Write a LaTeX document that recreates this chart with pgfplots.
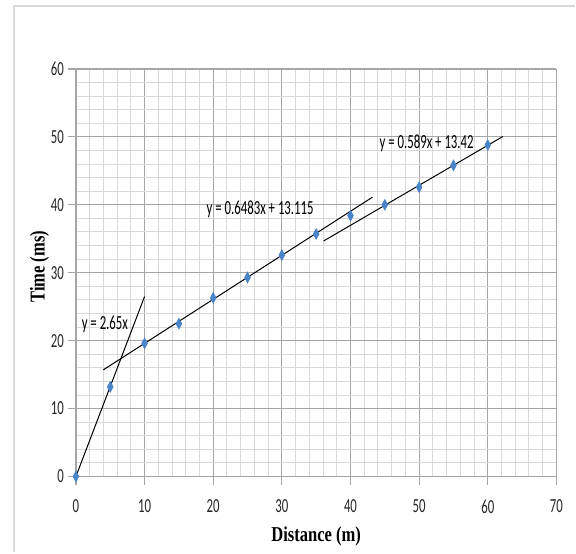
\documentclass[border=0pt]{standalone}
\usepackage{fontspec}
\setmainfont{Carlito}[FakeStretch=0.64]
\newfontfamily\serifb{Liberation Serif}[FakeStretch=0.78]
\usepackage{pgfplots}
\pgfplotsset{compat=1.18}
\definecolor{mk}{HTML}{4A84C8}
\definecolor{majg}{HTML}{A6A6A6}
\definecolor{ming}{HTML}{D9D9D9}
\begin{document}
\begin{tikzpicture}
\begin{axis}[
  scale only axis, width=240.5pt, height=204pt,
  at={(0,0)}, anchor=south west,
  xmin=0, xmax=70, ymin=0, ymax=60,
  xtick={0,10,...,70}, ytick={0,10,...,60},
  minor x tick num=4, minor y tick num=4,
  grid=both,
  major grid style={majg, line width=0.6pt},
  minor grid style={ming, line width=0.5pt},
  axis x line*=bottom, axis y line*=left,
  axis line style={majg, line width=0.6pt, -},
  tick style={majg, line width=0.6pt},
  minor tick length=0pt,
  major tick length=4pt,
  tick align=outside,
  x tick label style={yshift=-4pt},
  y tick label style={xshift=1.5pt},
  ticklabel style={font=\fontsize{10}{12}\selectfont, text=black!85},
  /pgf/number format/assume math mode=true,
  xlabel={\serifb\bfseries Distance (m)},
  ylabel={\serifb\bfseries Time (ms)},
  label style={font=\fontsize{10.6}{12}\selectfont},
  xlabel style={yshift=0pt},
  ylabel style={yshift=-6pt, xshift=3pt},
  clip=false,
]
\addplot[black, line width=0.5pt] coordinates {(0,0) (10,26.5)};
\addplot[black, line width=0.5pt] coordinates {(4,15.7082) (43.2,41.1216)};
\addplot[black, line width=0.5pt] coordinates {(36.1,34.6829) (62.2,50.0558)};
\addplot[only marks, mark=diamond*, mark size=2.6pt, mk, mark options={fill=mk, draw=mk, xscale=0.72}] coordinates {
(0,0) (5,13.2) (10,19.6) (15,22.5) (20,26.3) (25,29.3) (30,32.6) (35,35.7) (40,38.4) (45,40.0) (50,42.6) (55,45.8) (60,48.8)};
\node[anchor=west, inner sep=0pt, font=\fontsize{10}{12}\selectfont] at (axis cs:0.8,22.35) {y = 2.65x};
\node[anchor=west, inner sep=0pt, font=\fontsize{10}{12}\selectfont] at (axis cs:19.0,39.3) {y = 0.6483x + 13.115};
\node[anchor=west, inner sep=0pt, font=\fontsize{10}{12}\selectfont] at (axis cs:44.2,49.1) {y = 0.589x + 13.42};
\end{axis}
\draw[ming, line width=0.6pt] (-31pt,-38pt) -- (-31pt,235.5pt) -- (250pt,235.5pt);
\path[use as bounding box] (-38pt,-38pt) rectangle (250pt,238.5pt);
\end{tikzpicture}
\end{document}
